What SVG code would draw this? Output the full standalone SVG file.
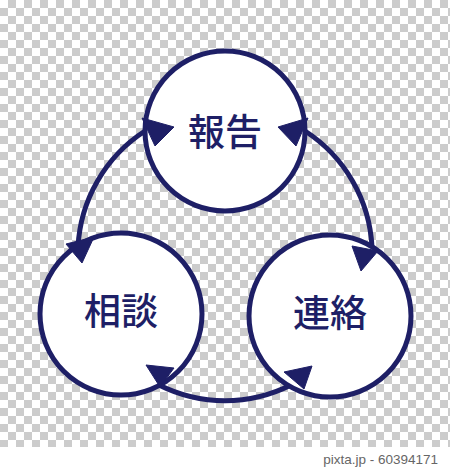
<svg xmlns="http://www.w3.org/2000/svg" width="450" height="469" viewBox="0 0 450 469">
  <style>
    .ring { fill: #ffffff; stroke: #1e1f66; stroke-width: 5; }
    .label { font-family: "Noto Sans CJK JP", "Noto Sans CJK SC", sans-serif; font-size: 37px; font-weight: 500; fill: #1e1f66; text-anchor: middle; }
    .conn { fill: none; stroke: #1e1f66; stroke-width: 5; }
    .head { fill: #1e1f66; stroke: #1e1f66; stroke-width: 1; stroke-linejoin: miter; }
    .credit { font-family: "Liberation Sans", Arial, sans-serif; font-size: 13.5px; fill: #666666; text-anchor: end; }
  </style>
  <defs>
    <pattern id="checker" x="0" y="0" width="16" height="16" patternUnits="userSpaceOnUse">
      <rect x="0" y="0" width="16" height="16" fill="#ffffff"/>
      <rect x="8" y="0" width="8" height="8" fill="#cccccc"/>
      <rect x="0" y="8" width="8" height="8" fill="#cccccc"/>
    </pattern>
  </defs>

  <rect x="0" y="0" width="450" height="469" fill="#ffffff"/>
  <rect x="0" y="0" width="450" height="447" fill="url(#checker)"/>

  <g id="connectors">
    <path class="conn" d="M78,247 A147,147 0 0,1 145,131"/>
    <path class="conn" d="M305,131 A147,147 0 0,1 372,247"/>
    <path class="conn" d="M291,385 A147,147 0 0,1 159,385"/>
  </g>

  <g id="node-hokoku">
    <circle class="ring" cx="225" cy="131" r="80"/>
    <text class="label" x="225" y="146">報告</text>
  </g>
  <g id="node-sodan">
    <circle class="ring" cx="121" cy="314" r="81"/>
    <text class="label" x="121" y="325">相談</text>
  </g>
  <g id="node-renraku">
    <circle class="ring" cx="330" cy="316" r="81"/>
    <text class="label" x="330" y="327">連絡</text>
  </g>

  <g id="arrowheads">
    <polygon class="head" points="142,118 174,127 155,146"/>
    <polygon class="head" points="308,118 278,127 296,146"/>
    <polygon class="head" points="66,244 94,237 82,263"/>
    <polygon class="head" points="352,246 378,251 361,271"/>
    <polygon class="head" points="146,365 174,368 160,387"/>
    <polygon class="head" points="312,366 284,372 304,389"/>
  </g>

  <text class="credit" x="438" y="464">pixta.jp - 60394171</text>
</svg>
